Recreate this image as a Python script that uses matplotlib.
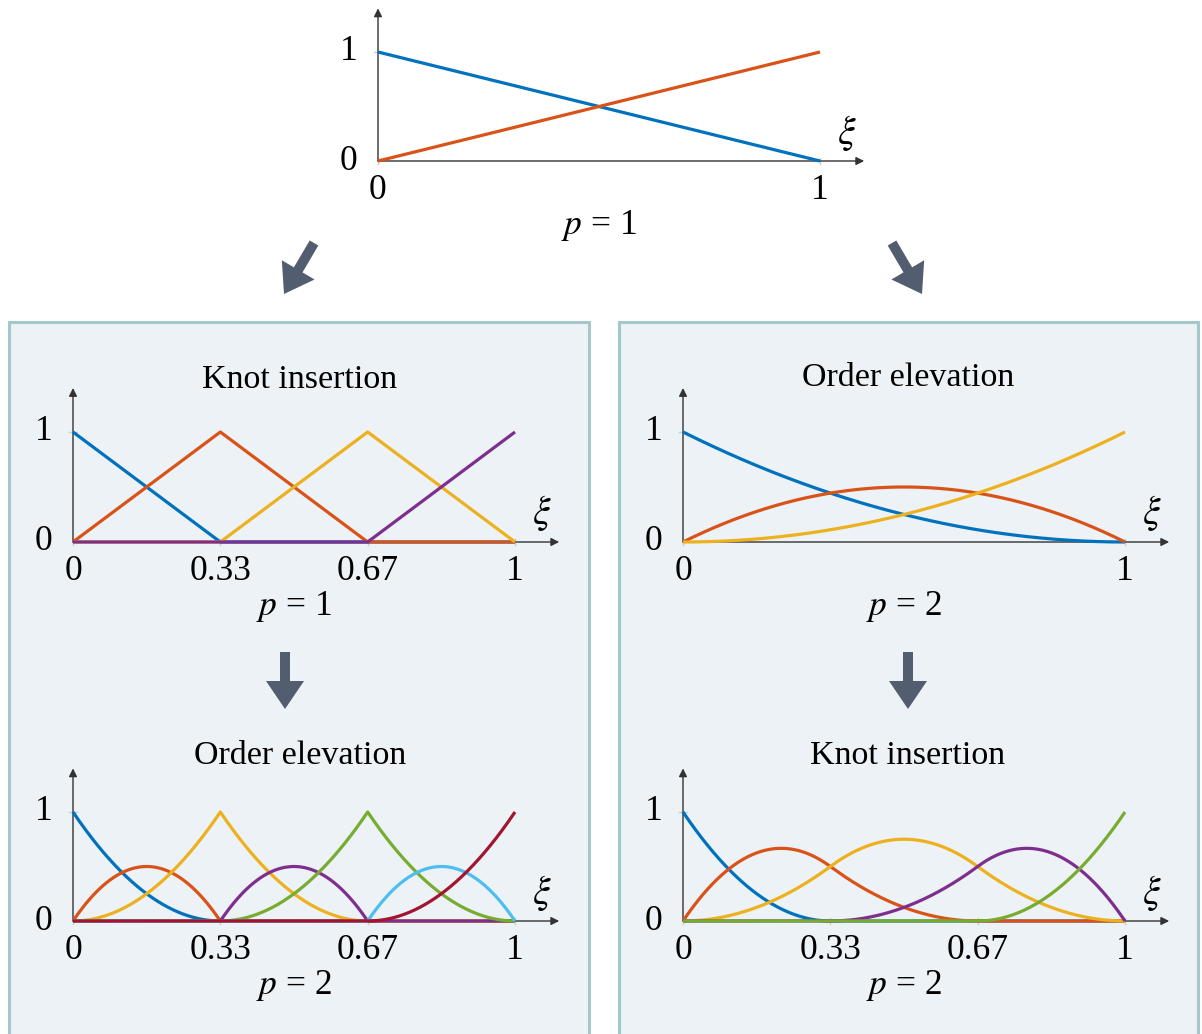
import numpy as np
import matplotlib.pyplot as plt
from matplotlib.patches import Rectangle, FancyArrow

plt.rcParams["font.family"] = ["Liberation Serif", "DejaVu Serif"]
plt.rcParams["mathtext.fontset"] = "stix"

# knot vectors and degrees of each basis
knots_top = [0, 0, 1, 1]
deg_top = 1
knots_ki = [0, 0, 1 / 3, 2 / 3, 1, 1]
deg_ki = 1
knots_ki_oe = [0, 0, 0, 1 / 3, 1 / 3, 2 / 3, 2 / 3, 1, 1, 1]
deg_ki_oe = 2
knots_oe = [0, 0, 0, 1, 1, 1]
deg_oe = 2
knots_oe_ki = [0, 0, 0, 1 / 3, 2 / 3, 1, 1, 1]
deg_oe_ki = 2

ticks_coarse = [0, 1]
ticklabels_coarse = ["0", "1"]
ticks_fine = [0, 1 / 3, 2 / 3, 1]
ticklabels_fine = ["0", "0.33", "0.67", "1"]

colors = ["#0072BD", "#D95319", "#EDB120", "#7E2F8E",
          "#77AC30", "#4DBEEE", "#A2142F"]

W, H = 1202, 1034
FS = 25.5
FS_TITLE = 24.5


def basis(knots, p, i, x):
    # Cox-de Boor recursion
    k = knots
    if p == 0:
        last = k[-1]
        out = ((x >= k[i]) & (x < k[i + 1])).astype(float)
        if k[i + 1] == last and k[i] < k[i + 1]:
            out[x == last] = 1.0
        return out
    a = np.zeros_like(x)
    b = np.zeros_like(x)
    if k[i + p] > k[i]:
        a = (x - k[i]) / (k[i + p] - k[i]) * basis(k, p - 1, i, x)
    if k[i + p + 1] > k[i + 1]:
        b = (k[i + p + 1] - x) / (k[i + p + 1] - k[i + 1]) * basis(k, p - 1, i + 1, x)
    return a + b


def panel(fig, x0, x1, y0, y1, knots, p, ticks, labels, plabel):
    ax = fig.add_axes([x0 / W, 1 - y0 / H, (x1 - x0) / W, (y0 - y1) / H])
    ax.set_xlim(0, 1)
    ax.set_ylim(0, 1)
    ax.set_axis_off()
    ax.patch.set_alpha(0)

    xs = np.linspace(0, 1, 601)
    n = len(knots) - p - 1
    for i in range(n):
        ax.plot(xs, basis(knots, p, i, xs), color=colors[i], lw=2.3,
                solid_capstyle="butt", clip_on=False, zorder=3)

    arrow = dict(arrowstyle="-|>", color="#333333", lw=1.0,
                 mutation_scale=12, shrinkA=0, shrinkB=0)
    ax.annotate("", xy=(1.10, 0), xytext=(0, 0), arrowprops=arrow,
                annotation_clip=False, zorder=2)
    ax.annotate("", xy=(0, 1.40), xytext=(0, 0), arrowprops=arrow,
                annotation_clip=False, zorder=2)

    for t, lab in zip(ticks, labels):
        ax.plot([t, t], [-0.03, 0.03], color="#cccccc", lw=1.0, clip_on=False, zorder=1)
        ax.text(t, -0.27, lab, ha="center", va="center", fontsize=FS)
    ax.plot([-0.008, 0.008], [1, 1], color="#cccccc", lw=1.0, clip_on=False, zorder=1)
    ax.text(-0.066, 1, "1", ha="center", va="center", fontsize=FS)
    ax.text(-0.066, 0, "0", ha="center", va="center", fontsize=FS)
    ax.text(1.06, 0.26, r"$\xi$", ha="center", va="center", fontsize=FS + 3)
    ax.text(0.5, -0.59, r"$p$ = " + plabel, ha="center", va="center", fontsize=FS)
    return ax


fig = plt.figure(figsize=(W / 100, H / 100), dpi=100)

# background layer in pixel coordinates: panel boxes and big arrows
bg = fig.add_axes([0, 0, 1, 1])
bg.set_xlim(0, W)
bg.set_ylim(H, 0)
bg.set_axis_off()
for left, right in [(9, 589), (619, 1198)]:
    bg.add_patch(Rectangle((left, 322), right - left, 800, facecolor="#ecf2f5",
                           edgecolor="#a3c7ca", lw=2.2))

arrow_kw = dict(width=10, head_width=38, head_length=28, length_includes_head=True,
                color="#525d70", lw=0)
for (tx, ty), (hx, hy) in [((314, 243), (284, 294)), ((892, 243), (922, 294)),
                           ((285, 652), (285, 709)), ((908, 652), (908, 709))]:
    bg.add_patch(FancyArrow(tx, ty, hx - tx, hy - ty, **arrow_kw))

panel(fig, 378, 820, 161, 52, knots_top, deg_top, ticks_coarse, ticklabels_coarse, "1")
panel(fig, 73, 515, 542, 432, knots_ki, deg_ki, ticks_fine, ticklabels_fine, "1")
panel(fig, 73, 515, 921, 812, knots_ki_oe, deg_ki_oe, ticks_fine, ticklabels_fine, "2")
panel(fig, 683, 1125, 542, 432, knots_oe, deg_oe, ticks_coarse, ticklabels_coarse, "2")
panel(fig, 683, 1125, 921, 812, knots_oe_ki, deg_oe_ki, ticks_fine, ticklabels_fine, "2")

fig.text(300 / W, 1 - 380 / H, "Knot insertion", ha="center", va="center", fontsize=FS_TITLE)
fig.text(300 / W, 1 - 756 / H, "Order elevation", ha="center", va="center", fontsize=FS_TITLE)
fig.text(908 / W, 1 - 378 / H, "Order elevation", ha="center", va="center", fontsize=FS_TITLE)
fig.text(908 / W, 1 - 756 / H, "Knot insertion", ha="center", va="center", fontsize=FS_TITLE)

fig.savefig("out.png", dpi=100)
